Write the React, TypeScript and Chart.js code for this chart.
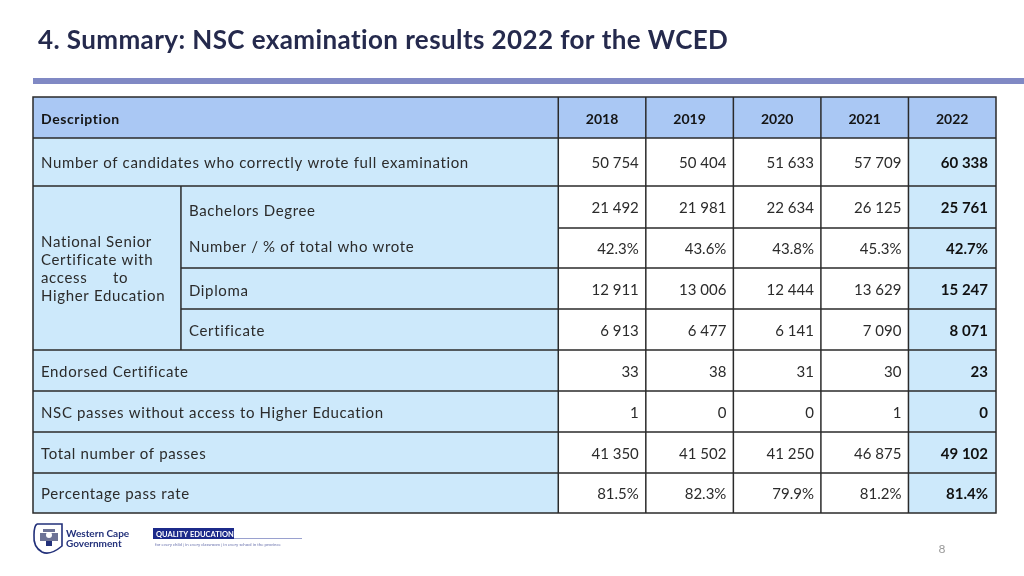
import React, { useEffect, useRef } from "react";
import { Chart, registerables } from "chart.js";

Chart.register(...registerables);

// ---- data ----
const years = ["2018", "2019", "2020", "2021", "2022"];
const candidates = [50754, 50404, 51633, 57709, 60338];
const bachelors = [21492, 21981, 22634, 26125, 25761];
const bachelorsPct = [42.3, 43.6, 43.8, 45.3, 42.7];
const diploma = [12911, 13006, 12444, 13629, 15247];
const certificate = [6913, 6477, 6141, 7090, 8071];
const endorsed = [33, 38, 31, 30, 23];
const noAccess = [1, 0, 0, 1, 0];
const totalPasses = [41350, 41502, 41250, 46875, 49102];
const passRate = [81.5, 82.3, 79.9, 81.2, 81.4];

const titleText = "4. Summary: NSC examination results 2022 for the WCED";
const headerLabel = "Description";
const groupLabel = ["National Senior", "Certificate with", "access", "Higher Education"];
const subLabels = ["Bachelors Degree", "Number / % of total who wrote", "Diploma", "Certificate"];
const mainLabels = [
  "Number of candidates who correctly wrote full examination",
  "Endorsed Certificate",
  "NSC passes without access to Higher Education",
  "Total number of passes",
  "Percentage pass rate",
];

// layout (scale units)
const rowHeights = [41, 48, 42, 40, 41, 41, 41, 41, 41, 40];
const colEdges = [0, 6, 7, 8, 9, 10, 11];
const subColX = 1.69;

const fmtNum = (n: number) => n.toString().replace(/\B(?=(\d{3})+(?!\d))/g, " ");
const fmtPct = (n: number) => n.toFixed(1) + "%";

const FONT = "Lato, 'Open Sans', sans-serif";

const tablePlugin = {
  id: "tablePlugin",
  afterDraw(chart: any) {
    const ctx: any = chart.ctx;
    const xs = chart.scales.x;
    const ys = chart.scales.y;
    const X = (v: number) => xs.getPixelForValue(v);
    const Y = (v: number) => ys.getPixelForValue(v);
    const edges: number[] = [0];
    rowHeights.forEach((h) => edges.push(edges[edges.length - 1] + h));
    const top = (r: number) => Y(edges[r]);
    const bot = (r: number) => Y(edges[r + 1]);
    const mid = (r: number) => (top(r) + bot(r)) / 2 + 1.5;

    ctx.save();
    // title
    ctx.fillStyle = "#252a4d";
    ctx.font = `bold 26px ${FONT}`;
    ctx.letterSpacing = "0.4px";
    ctx.textBaseline = "alphabetic";
    ctx.textAlign = "left";
    ctx.fillText(titleText, 38, 49);
    ctx.letterSpacing = "0px";
    // blue rule
    ctx.fillStyle = "#8089c4";
    ctx.fillRect(33, 78, 991, 6);

    // fills
    const fillRect = (x0: number, x1: number, r0: number, r1: number, c: string) => {
      ctx.fillStyle = c;
      ctx.fillRect(X(x0), top(r0), X(x1) - X(x0), bot(r1) - top(r0));
    };
    fillRect(0, 11, 0, 0, "#aac8f4");
    fillRect(0, 6, 1, 9, "#cde9fb");
    fillRect(6, 10, 1, 9, "#ffffff");
    fillRect(10, 11, 1, 9, "#cde9fb");

    // lines
    ctx.strokeStyle = "#2a2a2a";
    ctx.lineWidth = 1.5;
    const hLine = (x0: number, x1: number, yv: number) => {
      ctx.beginPath();
      ctx.moveTo(X(x0), Y(yv));
      ctx.lineTo(X(x1), Y(yv));
      ctx.stroke();
    };
    const vLine = (xv: number, y0: number, y1: number) => {
      ctx.beginPath();
      ctx.moveTo(X(xv), Y(y0));
      ctx.lineTo(X(xv), Y(y1));
      ctx.stroke();
    };
    ctx.strokeRect(X(0), Y(0), X(11) - X(0), Y(edges[10]) - Y(0));
    for (let i = 1; i < colEdges.length - 1; i++) vLine(colEdges[i], 0, edges[10]);
    vLine(subColX, edges[2], edges[6]);
    hLine(0, 11, edges[1]);
    hLine(0, 11, edges[2]);
    hLine(6, 11, edges[3]);
    hLine(subColX, 11, edges[4]);
    hLine(subColX, 11, edges[5]);
    for (let r = 6; r <= 9; r++) hLine(0, 11, edges[r]);

    // header text
    ctx.fillStyle = "#141414";
    ctx.font = `bold 14px ${FONT}`;
    ctx.textBaseline = "middle";
    ctx.textAlign = "left";
    ctx.letterSpacing = "0.6px";
    ctx.fillText(headerLabel, X(0) + 8, mid(0));
    ctx.letterSpacing = "0px";
    ctx.textAlign = "center";
    years.forEach((yr, i) => {
      ctx.fillText(yr, (X(colEdges[i + 1]) + X(colEdges[i + 2])) / 2, mid(0));
    });

    // description labels
    ctx.fillStyle = "#2b2b2b";
    ctx.font = `15px ${FONT}`;
    ctx.textAlign = "left";
    ctx.letterSpacing = "0.65px";
    const mainRows = [1, 6, 7, 8, 9];
    mainRows.forEach((r, i) => ctx.fillText(mainLabels[i], X(0) + 8, mid(r)));
    const subOffsets = [3, -2, 1, 0];
    [2, 3, 4, 5].forEach((r, i) => ctx.fillText(subLabels[i], X(subColX) + 8, mid(r) + subOffsets[i]));
    const gMid = (top(2) + bot(5)) / 2 + 1.5;
    const gy = [gMid - 27, gMid - 9, gMid + 9, gMid + 27];
    groupLabel.forEach((t, i) => ctx.fillText(t, X(0) + 8, gy[i]));
    ctx.fillText("to", X(0) + 80, gy[2]);
    ctx.letterSpacing = "0px";

    // values
    const rows: { r: number; vals: number[]; f: (n: number) => string }[] = [
      { r: 1, vals: candidates, f: fmtNum },
      { r: 2, vals: bachelors, f: fmtNum },
      { r: 3, vals: bachelorsPct, f: fmtPct },
      { r: 4, vals: diploma, f: fmtNum },
      { r: 5, vals: certificate, f: fmtNum },
      { r: 6, vals: endorsed, f: fmtNum },
      { r: 7, vals: noAccess, f: fmtNum },
      { r: 8, vals: totalPasses, f: fmtNum },
      { r: 9, vals: passRate, f: fmtPct },
    ];
    ctx.textAlign = "right";
    rows.forEach(({ r, vals, f }) => {
      vals.forEach((v, i) => {
        const last = i === vals.length - 1;
        ctx.font = last ? `bold 15px ${FONT}` : `15px ${FONT}`;
        ctx.fillStyle = last ? "#111111" : "#2b2b2b";
        ctx.fillText(f(v), X(colEdges[i + 2]) - (last ? 8 : 7), mid(r));
      });
    });

    // footer: crest
    ctx.strokeStyle = "#22307a";
    ctx.lineWidth = 1.6;
    ctx.beginPath();
    ctx.moveTo(37, 524);
    ctx.lineTo(62, 524);
    ctx.lineTo(62, 546);
    ctx.quadraticCurveTo(50, 556, 42, 552);
    ctx.quadraticCurveTo(33, 547, 34, 535);
    ctx.quadraticCurveTo(34, 526, 37, 524);
    ctx.stroke();
    ctx.fillStyle = "#6d7396";
    ctx.fillRect(43, 529, 12, 3);
    ctx.fillRect(40, 533, 18, 8);
    ctx.fillStyle = "#22307a";
    ctx.fillRect(46, 541, 6, 5);
    ctx.beginPath();
    ctx.arc(49, 535, 3, 0, Math.PI * 2);
    ctx.fillStyle = "#ffffff";
    ctx.fill();

    ctx.fillStyle = "#22307a";
    ctx.font = `bold 10px ${FONT}`;
    ctx.textAlign = "left";
    ctx.textBaseline = "alphabetic";
    ctx.fillText("Western Cape", 66, 537);
    ctx.fillText("Government", 66, 547);

    // quality education badge
    ctx.fillStyle = "#1c2a8a";
    ctx.fillRect(153, 528, 81, 11);
    ctx.fillStyle = "#ffffff";
    ctx.font = `bold 7.5px ${FONT}`;
    ctx.fillText("QUALITY EDUCATION", 156, 537);
    ctx.strokeStyle = "#9aa1cf";
    ctx.lineWidth = 1;
    ctx.beginPath();
    ctx.moveTo(234, 538.5);
    ctx.lineTo(302, 538.5);
    ctx.stroke();
    ctx.fillStyle = "#6a72ad";
    ctx.font = `4.3px ${FONT}`;
    ctx.fillText("for every child | in every classroom | in every school in the province", 155, 546);

    // page number
    ctx.fillStyle = "#9a9a9a";
    ctx.font = `12px ${FONT}`;
    ctx.textAlign = "center";
    ctx.textBaseline = "middle";
    ctx.fillText("8", 942, 549);
    ctx.restore();
  },
};

export default function App() {
  const ref = useRef<HTMLCanvasElement | null>(null);
  useEffect(() => {
    if (!ref.current) return;
    const total = rowHeights.reduce((a, b) => a + b, 0);
    const chart = new Chart(ref.current, {
      type: "scatter",
      data: { datasets: [] },
      options: {
        animation: false,
        responsive: false,
        devicePixelRatio: 1,
        layout: { padding: { left: 33, right: 28, top: 97, bottom: 63 } },
        plugins: { legend: { display: false }, tooltip: { enabled: false }, title: { display: false } },
        scales: {
          x: { type: "linear", min: colEdges[0], max: colEdges[colEdges.length - 1], display: false },
          y: { type: "linear", min: 0, max: total, reverse: true, display: false },
        },
      },
      plugins: [tablePlugin],
    });
    return () => chart.destroy();
  }, []);
  return (
    <div style={{ position: "absolute", left: 0, top: 0, width: 1024, height: 576, background: "#fff" }}>
      <canvas ref={ref} width={1024} height={576} style={{ display: "block" }} />
    </div>
  );
}
